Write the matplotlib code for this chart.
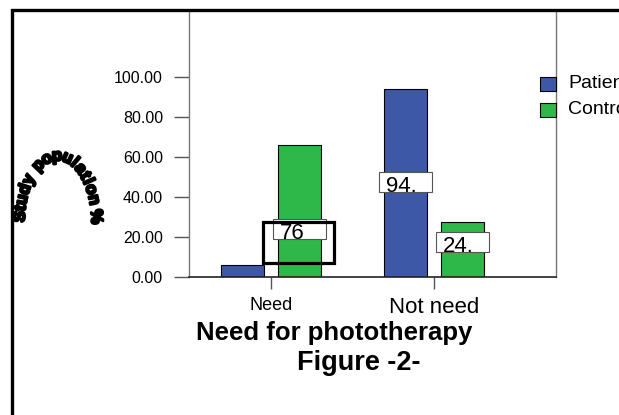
import numpy as np
import matplotlib
matplotlib.use('Agg')
import matplotlib.pyplot as plt
import matplotlib.patheffects as pe
from matplotlib.patches import Rectangle

plt.rcParams['font.family'] = ['Liberation Sans', 'DejaVu Sans']

categories = ['Need', 'Not need']
series = ['Patients', 'Control']
patients = [6, 94]
control = [66, 27.5]
colors = ['#3E58A8', '#2EB84A']
yticks = [0, 20, 40, 60, 80, 100]

# value boxes: (category, series index, text, y position)
labels = [(0, 1, '76', 24), (1, 0, '94.', 47.5), (1, 1, '24.', 17.5)]

W, H = 619, 415
fig = plt.figure(figsize=(W / 100, H / 100), dpi=100)

# pixel helpers (y measured from top)
def fx(px):
    return px / W

def fy(py):
    return 1 - py / H

ax = fig.add_axes([fx(189), fy(277), fx(556) - fx(189), fy(10) - fy(277)])

x = np.arange(len(categories))
off = 0.175
bw = 0.264
for i, vals in enumerate([patients, control]):
    ax.bar(x + (2 * i - 1) * off, vals, bw, color=colors[i],
           edgecolor='black', linewidth=0.8, zorder=2)

ax.set_xlim(-0.503, 1.748)
ax.set_ylim(0, 133.5)

ax.set_yticks(yticks, [f'{v:.2f}' for v in yticks], fontsize=11.5)
ax.tick_params(axis='y', length=10.8, width=1, color='#555555', pad=8)
ax.set_xticks(x, categories)
ax.tick_params(axis='x', length=8.6, width=1, color='#555555', pad=6)
xt = ax.get_xticklabels()
xt[0].set_fontsize(13)
xt[1].set_fontsize(16)

for s in ['left', 'right', 'top']:
    ax.spines[s].set_color('#777777')
    ax.spines[s].set_linewidth(1)
ax.spines['bottom'].set_color('#222222')
ax.spines['bottom'].set_linewidth(1.2)

# value label boxes
for ci, si, txt, yv in labels:
    cx = x[ci] + (2 * si - 1) * off
    bx = 0.32
    ax.add_patch(Rectangle((cx - bx / 2, yv - 5), bx, 10, facecolor='white',
                           edgecolor='#555555', linewidth=0.8, zorder=3))
    ax.text(cx - bx / 2 + 0.04, yv - 2, txt, fontsize=16, ha='left',
            va='center', zorder=4)

# thick selection frame around the "76" label
ax.add_patch(Rectangle((-0.049, 7), 0.436, 20.5, fill=False,
                       edgecolor='black', linewidth=2.3, zorder=5))

# legend
for i, name in enumerate(series):
    top = 77 + 26 * i
    fig.add_artist(Rectangle((fx(540), fy(top + 14)), fx(16), 14 / H,
                             facecolor=colors[i], edgecolor='black',
                             linewidth=0.8))
    fig.text(fx(568), fy(top + 7), name, fontsize=14, va='center', ha='left')

# axis title and caption
fig.text(fx(334), fy(340), 'Need for phototherapy', fontsize=18.5,
         fontweight='bold', ha='center', va='baseline')
fig.text(fx(359), fy(370), 'Figure -2-', fontsize=19.5,
         fontweight='bold', ha='center', va='baseline')

# curved y label
ylab = 'Study population %'
cx, cy, rx, ry = 58, 415 - 222, 38, 66
th = np.linspace(np.pi, 0, 2000)
px = cx + rx * np.cos(th)
py = cy + ry * np.sin(th)
seg = np.hypot(np.diff(px), np.diff(py))
arc = np.concatenate([[0], np.cumsum(seg)])
wts = np.array([0.6 if c in 'ilt ' else 1.0 for c in ylab])
pos = (np.cumsum(wts) - wts / 2) / wts.sum()
start, end = 0.0, 1.0 * arc[-1]
for c, p in zip(ylab, pos):
    s = start + p * (end - start)
    k = np.searchsorted(arc, s)
    k = min(k, len(th) - 1)
    t = th[k]
    rot = np.degrees(np.arctan2(-ry * np.cos(t), rx * np.sin(t)))
    fig.text(px[k] / W, py[k] / H, c, fontsize=12, fontweight='bold',
             rotation=rot, rotation_mode='anchor', ha='center', va='center',
             path_effects=[pe.withStroke(linewidth=1.8, foreground='black')])

# outer frame (right and bottom edges fall outside the image)
fig.add_artist(Rectangle((fx(12), -0.2), 1.2, fy(10) + 0.2, fill=False,
                         edgecolor='black', linewidth=2.4, clip_on=False))

fig.savefig('out.png', dpi=100)
